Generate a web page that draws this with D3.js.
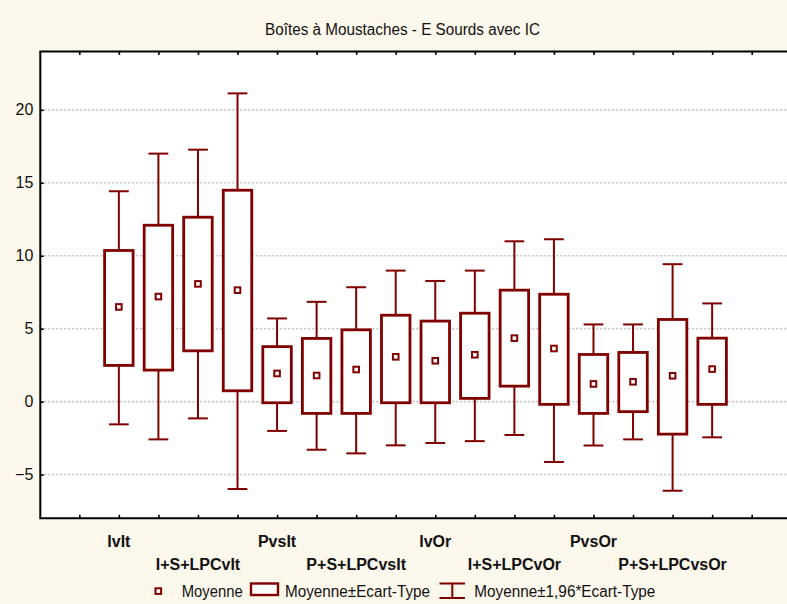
<!DOCTYPE html>
<html>
<head>
<meta charset="utf-8">
<script src="https://cdn.jsdelivr.net/npm/d3@7/dist/d3.min.js"></script>
<style>
  html, body { margin: 0; padding: 0; background: #fdf8ec; }
  svg { display: block; }
  text { font-family: "Liberation Sans", Arial, sans-serif; fill: #111; }
</style>
</head>
<body>
<svg id="chart" width="787" height="604"></svg>
<script>
// ---- data ----
const title = "Boîtes à Moustaches - E Sourds avec IC";
const positions = d3.range(1, 17);           // 16 boxes
const tickLabels = ["IvIt", "I+S+LPCvIt", "PvsIt", "P+S+LPCvsIt", "IvOr", "I+S+LPCvOr", "PvsOr", "P+S+LPCvsOr"];
const labelPositions = [1, 3, 5, 7, 9, 11, 13, 15];
const means  = [6.49, 7.20, 8.07, 7.64, 1.93, 1.79, 2.20, 3.07, 2.80, 3.21, 4.35, 3.64, 1.21, 1.36, 1.77, 2.23];
const sdLow  = [2.48, 2.16, 3.48, 0.74, -0.08, -0.81, -0.81, -0.08, -0.08, 0.22, 1.06, -0.19, -0.81, -0.69, -2.23, -0.19];
const sdHigh = [10.36, 12.09, 12.64, 14.49, 3.77, 4.33, 4.92, 5.92, 5.52, 6.06, 7.64, 7.36, 3.23, 3.37, 5.63, 4.35];
const ciLow  = [-1.56, -2.59, -1.15, -5.99, -2.01, -3.30, -3.55, -3.00, -2.84, -2.71, -2.29, -4.14, -3.01, -2.59, -6.11, -2.45];
const ciHigh = [14.42, 17.00, 17.27, 21.13, 5.70, 6.84, 7.84, 8.98, 8.27, 8.98, 10.99, 11.13, 5.29, 5.29, 9.42, 6.73];
const yTicks = [-5, 0, 5, 10, 15, 20];
const legendLabels = ["Moyenne", "Moyenne±Ecart-Type", "Moyenne±1,96*Ecart-Type"];

// ---- layout ----
const svg = d3.select("#chart");
const plotLeft = 40.3, plotTop = 51.5, plotBottom = 518.3, plotRight = 800;
const color = "#800000";

const x = d3.scaleLinear().domain([0, 17]).range([79.3, 751.7]);
const y = d3.scaleLinear().domain([-8, 24]).range([plotBottom, plotTop]);
const step = x(1) - x(0);
const boxW = step * 0.72;
const capW = step * 0.5;

// plot background
svg.append("rect")
  .attr("x", plotLeft).attr("y", plotTop)
  .attr("width", plotRight - plotLeft).attr("height", plotBottom - plotTop)
  .attr("fill", "#ffffff");

// gridlines
svg.append("g").selectAll("line").data(yTicks).join("line")
  .attr("x1", plotLeft).attr("x2", plotRight)
  .attr("y1", d => y(d)).attr("y2", d => y(d))
  .attr("stroke", "#c4c4c4").attr("stroke-width", 1.6)
  .attr("stroke-dasharray", "2,2");

// title (narrow look: taller glyphs squeezed to the reference width)
svg.append("text")
  .attr("x", 265).attr("y", 35)
  .attr("textLength", 275).attr("lengthAdjust", "spacingAndGlyphs")
  .style("font-size", "16px")
  .text(title);

// boxes
const data = positions.map((p, i) => ({
  p, mean: means[i], lo: sdLow[i], hi: sdHigh[i], cl: ciLow[i], ch: ciHigh[i]
}));

const g = svg.append("g");
const box = g.selectAll("g.box").data(data).join("g").attr("class", "box");

// whiskers
box.append("line")
  .attr("x1", d => x(d.p)).attr("x2", d => x(d.p))
  .attr("y1", d => y(d.hi)).attr("y2", d => y(d.ch))
  .attr("stroke", color).attr("stroke-width", 2);
box.append("line")
  .attr("x1", d => x(d.p)).attr("x2", d => x(d.p))
  .attr("y1", d => y(d.lo)).attr("y2", d => y(d.cl))
  .attr("stroke", color).attr("stroke-width", 2);
box.append("line")
  .attr("x1", d => x(d.p) - capW / 2).attr("x2", d => x(d.p) + capW / 2)
  .attr("y1", d => y(d.ch)).attr("y2", d => y(d.ch))
  .attr("stroke", color).attr("stroke-width", 2);
box.append("line")
  .attr("x1", d => x(d.p) - capW / 2).attr("x2", d => x(d.p) + capW / 2)
  .attr("y1", d => y(d.cl)).attr("y2", d => y(d.cl))
  .attr("stroke", color).attr("stroke-width", 2);

// SD box
box.append("rect")
  .attr("x", d => x(d.p) - boxW / 2).attr("width", boxW)
  .attr("y", d => y(d.hi)).attr("height", d => y(d.lo) - y(d.hi))
  .attr("fill", "#ffffff").attr("stroke", color).attr("stroke-width", 2.8);

// mean marker
box.append("rect")
  .attr("x", d => x(d.p) - 2.8).attr("y", d => y(d.mean) - 2.8)
  .attr("width", 5.6).attr("height", 5.6)
  .attr("fill", "#ffffff").attr("stroke", color).attr("stroke-width", 2);

// axes (ticks inward)
const xAxisB = svg.append("g").attr("transform", `translate(0,${plotBottom})`)
  .call(d3.axisBottom(x).tickValues(d3.range(0, 18)).tickSize(-3.5).tickFormat(""));
const xAxisT = svg.append("g").attr("transform", `translate(0,${plotTop})`)
  .call(d3.axisTop(x).tickValues(d3.range(0, 18)).tickSize(-3.5).tickFormat(""));
const yAxis = svg.append("g").attr("transform", `translate(${plotLeft},0)`)
  .call(d3.axisLeft(y).tickValues(yTicks).tickSize(-3.5).tickPadding(7).tickFormat(d3.format("d")));
[xAxisB, xAxisT, yAxis].forEach(a => {
  a.select(".domain").remove();
  a.selectAll(".tick line").attr("stroke", "#000").attr("stroke-width", 1.6);
});
yAxis.selectAll("text").style("font-size", "16px").attr("fill", "#111")
  .style("font-family", "'Liberation Sans', Arial, sans-serif");

// frame
svg.append("path")
  .attr("d", `M${plotRight},${plotTop}H${plotLeft}V${plotBottom}H${plotRight}`)
  .attr("fill", "none").attr("stroke", "#000").attr("stroke-width", 2);

// x category labels, staggered in two rows
svg.append("g").selectAll("text").data(tickLabels).join("text")
  .attr("x", (d, i) => x(labelPositions[i]))
  .attr("y", (d, i) => i % 2 === 0 ? 547 : 570)
  .attr("text-anchor", "middle")
  .style("font-size", "16px").style("font-weight", "bold")
  .text(d => d);

// legend
const legendText = [
  { x: 181.7, w: 61 },
  { x: 285, w: 145 },
  { x: 474.3, w: 181 }
];
const lg = svg.append("g");
lg.append("rect").attr("x", 155.5).attr("y", 588.3).attr("width", 5.6).attr("height", 5.6)
  .attr("fill", "#fff").attr("stroke", color).attr("stroke-width", 2);
lg.append("rect").attr("x", 251).attr("y", 583.5).attr("width", 27).attr("height", 11.5)
  .attr("fill", "#fff").attr("stroke", color).attr("stroke-width", 2.4);
lg.append("line").attr("x1", 439.5).attr("x2", 465).attr("y1", 583.5).attr("y2", 583.5)
  .attr("stroke", color).attr("stroke-width", 2);
lg.append("line").attr("x1", 439.5).attr("x2", 465).attr("y1", 598).attr("y2", 598)
  .attr("stroke", color).attr("stroke-width", 2);
lg.append("line").attr("x1", 452.3).attr("x2", 452.3).attr("y1", 583.5).attr("y2", 598)
  .attr("stroke", color).attr("stroke-width", 2);
lg.selectAll("text").data(legendLabels).join("text")
  .attr("x", (d, i) => legendText[i].x).attr("y", 596.5)
  .attr("textLength", (d, i) => legendText[i].w).attr("lengthAdjust", "spacingAndGlyphs")
  .style("font-size", "16px")
  .text(d => d);
</script>
</body>
</html>
